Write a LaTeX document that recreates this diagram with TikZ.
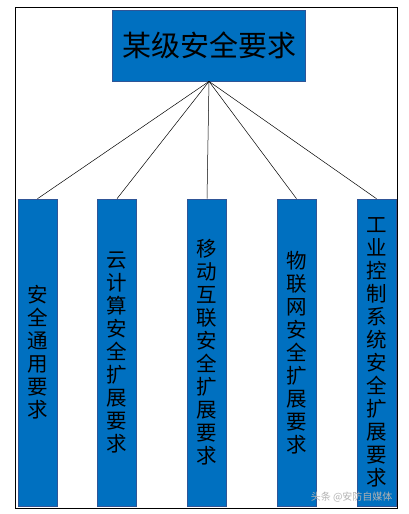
\documentclass[tikz,border=0pt]{standalone}
\usepackage{fontspec}
\newfontfamily\cjk{Noto Sans CJK SC}
\definecolor{boxblue}{HTML}{0070C0}
\definecolor{edgeblue}{HTML}{2F5597}
\begin{document}
\begin{tikzpicture}[x=1pt,y=-1pt,
  topbox/.style={draw=edgeblue, fill=boxblue, line width=0.8pt, minimum width=193pt, minimum height=71pt, inner sep=0pt, font=\cjk\fontsize{29}{32}\selectfont},
  colbox/.style={draw=edgeblue, fill=boxblue, line width=0.6pt, minimum width=39pt, minimum height=307pt, inner sep=0pt, align=center, font=\cjk\fontsize{20.5}{23}\selectfont},
  link/.style={draw=black, line width=0.5pt}]
\useasboundingbox (0,0) rectangle (408,514);
\draw[line width=0.8pt] (15,7.5) rectangle (397.5,508);
\node[topbox] (top) at (209,45.5) {某级安全要求};
\node[colbox] (b1) at (37.5,352.5) {安\\全\\通\\用\\要\\求};
\node[colbox] (b2) at (117,352.5) {云\\计\\算\\安\\全\\扩\\展\\要\\求};
\node[colbox] (b3) at (207,352.5) {移\\动\\互\\联\\安\\全\\扩\\展\\要\\求};
\node[colbox] (b4) at (296.5,352.5) {物\\联\\网\\安\\全\\扩\\展\\要\\求};
\node[colbox] (b5) at (376.5,352.5) {工\\业\\控\\制\\系\\统\\安\\全\\扩\\展\\要\\求};
\foreach \b in {b1,b2,b3,b4,b5} \draw[link] (top.south) -- (\b.north);
\node[text=gray!60, font=\cjk\fontsize{10}{12}\selectfont, anchor=east] (wm) at (396,497) {头条 @安防自媒体};
\end{tikzpicture}
\end{document}
